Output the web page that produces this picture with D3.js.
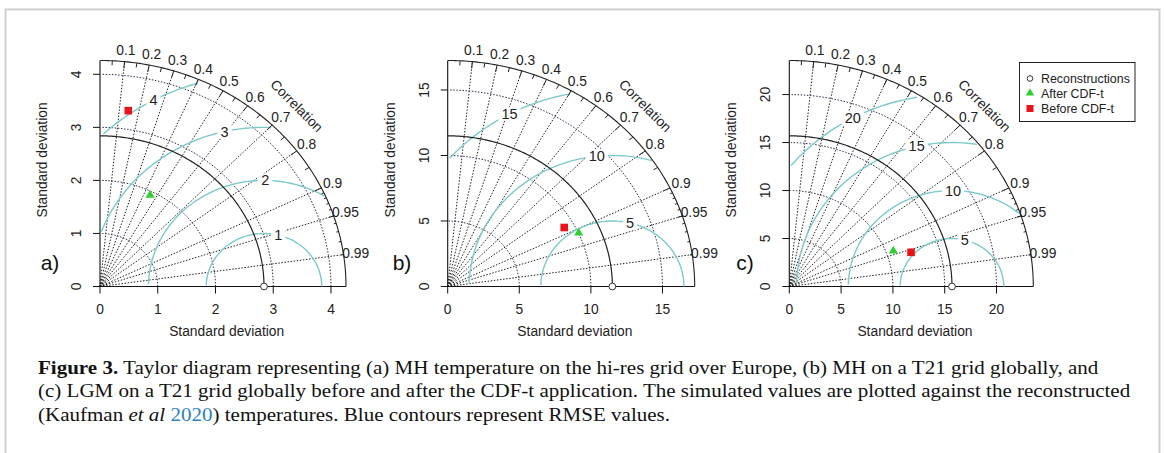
<!DOCTYPE html>
<html><head><meta charset="utf-8">
<script src="https://cdn.jsdelivr.net/npm/d3@7"></script>
<style>body{margin:0;background:#fff} svg{display:block}</style>
</head><body><svg id="c" width="1165" height="453"></svg>
<script>
// ---- data ----
const panelLabels = ["a)", "b)", "c)"];
const refSd = [2.84, 11.5, 15.7];
const maxSd = [4.26, 17.25, 23.55];
const axisTicks = [[0,1,2,3,4],[0,5,10,15],[0,5,10,15,20]];
const gammaLevels = [[1,2,3,4],[5,10,15],[5,10,15,20]];
const corrLabels = [0.1,0.2,0.3,0.4,0.5,0.6,0.7,0.8,0.9,0.95,0.99];
const seriesNames = ["Reconstructions","After CDF-t","Before CDF-t"];
const afterSd  = [1.93, 10.02, 10.70];
const afterCor = [0.449, 0.913, 0.938];
const beforeSd  = [3.35, 9.30, 12.28];
const beforeCor = [0.146, 0.875, 0.957];

// ---- layout ----
const svg = d3.select("#c");
svg.append("rect").attr("x",5.5).attr("y",9.5).attr("width",1154).attr("height",470)
  .attr("fill","none").attr("stroke","#cfcfcf").attr("stroke-width",2);

const X0 = [100, 447.7, 789.3], W = [246, 247, 244], Y0 = 286.5, H = 226;
const labX = [50, 402, 745];
const font = "Liberation Sans, Arial, sans-serif";
const gammaCol = "#7ccaca";
const dotCol = "#222";
const arcCol = "#2a2a48";

function drawPanel(i){
  const ms = maxSd[i], sdr = refSd[i];
  const xs = d3.scaleLinear().domain([0, ms]).range([X0[i], X0[i]+W[i]]);
  const ys = d3.scaleLinear().domain([0, ms]).range([Y0, Y0-H]);
  const g = svg.append("g");
  const line = d3.line().x(d=>xs(d[0])).y(d=>ys(d[1]));
  const pol = (r,a)=>[r*Math.cos(a), r*Math.sin(a)];

  // correlation rays
  corrLabels.forEach(c=>{
    g.append("path").attr("d", line([[0,0],[ms*c, ms*Math.sqrt(1-c*c)]]))
      .attr("stroke",dotCol).attr("stroke-width",1).attr("stroke-dasharray","1.5,1.6").attr("fill","none");
  });
  // axes
  g.append("path").attr("d", line([[0,ms],[0,0],[ms,0]])).attr("stroke","#111").attr("fill","none").attr("stroke-width",1.1);
  const ticks = axisTicks[i];
  ticks.forEach(t=>{
    g.append("line").attr("x1",xs(t)).attr("x2",xs(t)).attr("y1",Y0).attr("y2",Y0+7).attr("stroke","#111");
    g.append("text").attr("x",xs(t)).attr("y",Y0+27).attr("text-anchor","middle")
      .attr("font-family",font).attr("font-size",13.8).attr("fill","#222").text(t);
    g.append("line").attr("y1",ys(t)).attr("y2",ys(t)).attr("x1",X0[i]).attr("x2",X0[i]-7).attr("stroke","#111");
    g.append("text").attr("transform",`translate(${X0[i]-19},${ys(t)}) rotate(-90)`).attr("text-anchor","middle")
      .attr("font-family",font).attr("font-size",13.8).attr("fill","#222").text(t);
  });
  // sd arcs
  ticks.filter(t=>t>0).forEach(t=>{
    const pts = d3.range(0, Math.PI/2, 0.03).map(a=>pol(t,a));
    g.append("path").attr("d", line(pts)).attr("stroke",arcCol).attr("fill","none")
      .attr("stroke-width",1).attr("stroke-dasharray","1.5,1.6");
  });
  // gamma (RMSE) contours
  const gl = gammaLevels[i];
  const angles = d3.range(105).map(k=>k*0.03);
  gl.forEach((gm, gi)=>{
    const xc = angles.map(a=>Math.cos(a)*gm+sdr);
    const yc = angles.map(a=>Math.sin(a)*gm);
    const neg = xc.findIndex(v=>v<0);
    const end = neg>=0 ? neg-1 : 104;
    let start = 0;
    xc.forEach((v,k)=>{ if (v*v+yc[k]*yc[k] > ms*ms) start = k+1; });
    const pts = [];
    for (let k=start;k<=end;k++) pts.push([xc[k],yc[k]]);
    g.append("path").attr("d", line(pts)).attr("stroke",gammaCol).attr("fill","none").attr("stroke-width",1.4);
    const lp = gl.length>1 ? 45 + (70-45)*gi/(gl.length-1) : 45;
    const k = Math.floor(lp)-1;
    if (xc[k] > 0){
      const tx = xs(xc[k]), ty = ys(yc[k]);
      const t = g.append("text").attr("x",tx).attr("y",ty+5).attr("text-anchor","middle")
        .attr("font-family",font).attr("font-size",14.5).attr("fill","#222").text(gm);
      const bb = t.node().getBBox();
      g.insert("rect", () => t.node()).attr("x",bb.x-3).attr("y",bb.y+1).attr("width",bb.width+6).attr("height",bb.height-2).attr("fill","#fff");
    }
  });
  // outer arc
  const outer = d3.range(0, Math.PI/2+0.001, 0.01).map(a=>pol(ms,Math.min(a,Math.PI/2)));
  g.append("path").attr("d", line(outer)).attr("stroke","#222").attr("fill","none").attr("stroke-width",1.1);
  // ticks on outer arc
  const tickSet = (vals, f)=>vals.forEach(c=>{
    const a = Math.acos(c);
    g.append("path").attr("d", line([pol(ms,a), pol(ms*f,a)])).attr("stroke","#222").attr("fill","none");
  });
  tickSet(d3.range(1,10).map(v=>v/10), 0.97);
  tickSet(d3.range(0,10).map(v=>0.05+v/10), 0.98);
  tickSet(d3.range(1,10).map(v=>0.9+v/100), 0.99);
  // reference sd arc
  const refArc = d3.range(0, Math.PI/2+0.001, 0.01).map(a=>pol(sdr,Math.min(a,Math.PI/2)));
  g.append("path").attr("d", line(refArc)).attr("stroke","#222").attr("fill","none").attr("stroke-width",1.2);
  // reference point
  g.append("circle").attr("cx",xs(sdr)).attr("cy",ys(0)).attr("r",3.4).attr("fill","#fff").attr("stroke","#333").attr("stroke-width",1);
  // correlation labels
  corrLabels.forEach(c=>{
    const a = Math.acos(c);
    const p = pol(ms*1.05, a);
    g.append("text").attr("x",xs(p[0])).attr("y",ys(p[1])+5).attr("text-anchor","middle")
      .attr("font-family",font).attr("font-size",13.8).attr("fill","#222").text(c);
  });
  g.append("text").attr("transform",`translate(${xs(ms*0.8)},${ys(ms*0.8)}) rotate(45)`)
    .attr("text-anchor","middle").attr("dy","0.35em")
    .attr("font-family",font).attr("font-size",13.8).attr("fill","#222").text("Correlation");
  // axis titles
  g.append("text").attr("x",X0[i]+W[i]*0.515).attr("y",Y0+49).attr("text-anchor","middle")
    .attr("font-family",font).attr("font-size",13.8).attr("fill","#222").text("Standard deviation");
  g.append("text").attr("transform",`translate(${X0[i]-53},${Y0-H*0.56}) rotate(-90)`).attr("text-anchor","middle")
    .attr("font-family",font).attr("font-size",13.8).attr("fill","#222").text("Standard deviation");
  // panel label
  g.append("text").attr("x",labX[i]).attr("y",Y0-17).attr("text-anchor","middle")
    .attr("font-family",font).attr("font-size",21).attr("fill","#111").text(panelLabels[i]);
  // points
  const bx = beforeSd[i]*beforeCor[i], by = beforeSd[i]*Math.sqrt(1-beforeCor[i]**2);
  const ax = afterSd[i]*afterCor[i], ay = afterSd[i]*Math.sqrt(1-afterCor[i]**2);
  g.append("path").attr("transform",`translate(${xs(ax)},${ys(ay)})`)
    .attr("d", d3.symbol(d3.symbolTriangle, 36)()).attr("fill","#2fcf2f");
  g.append("rect").attr("x",xs(bx)-3.8).attr("y",ys(by)-3.8).attr("width",7.6).attr("height",7.6).attr("fill","#e8141a");
}
[0,1,2].forEach(drawPanel);

// legend
const lg = svg.append("g");
lg.append("rect").attr("x",1019.5).attr("y",62.5).attr("width",115.5).attr("height",59).attr("fill","#fff").attr("stroke","#222");
const ly = [78.5, 93, 108.5];
lg.append("circle").attr("cx",1030).attr("cy",ly[0]).attr("r",2.8).attr("fill","none").attr("stroke","#333");
lg.append("path").attr("transform",`translate(1030,${ly[1]})`).attr("d", d3.symbol(d3.symbolTriangle, 30)()).attr("fill","#2fcf2f");
lg.append("rect").attr("x",1026.5).attr("y",ly[2]-3.5).attr("width",7).attr("height",7).attr("fill","#e8141a");
seriesNames.forEach((s,k)=>{
  lg.append("text").attr("x",1041).attr("y",ly[k]+4.5).attr("font-family",font).attr("font-size",12.4).attr("fill","#222").text(s);
});

// caption
const serif = "Liberation Serif, Times New Roman, serif";
const capLines = [
  [{t:"Figure 3.", w:"bold"},{t:" Taylor diagram representing (a) MH temperature on the hi-res grid over Europe, (b) MH on a T21 grid globally, and"}],
  [{t:"(c) LGM on a T21 grid globally before and after the CDF-t application. The simulated values are plotted against the reconstructed"}],
  [{t:"(Kaufman "},{t:"et al", s:"italic"},{t:" "},{t:"2020", c:"#2f7fc1"},{t:") temperatures. Blue contours represent RMSE values."}]
];
const capY = [373.5, 397, 420.5];
const capNodes = capLines.map((ln,k)=>{
  const t = svg.append("text").attr("x",0).attr("y",0).attr("font-family",serif).attr("font-size",19.5).attr("fill","#111");
  ln.forEach(p=>{
    const ts = t.append("tspan").text(p.t);
    if (p.w) ts.attr("font-weight",p.w);
    if (p.s) ts.attr("font-style",p.s);
    if (p.c) ts.attr("fill",p.c);
  });
  return t;
});
const w2 = capNodes[1].node().getBBox().width;
const sc = (1131-38)/w2;
capNodes.forEach((t,k)=>t.attr("transform",`translate(38,${capY[k]}) scale(${sc},1)`));
</script></body></html>
